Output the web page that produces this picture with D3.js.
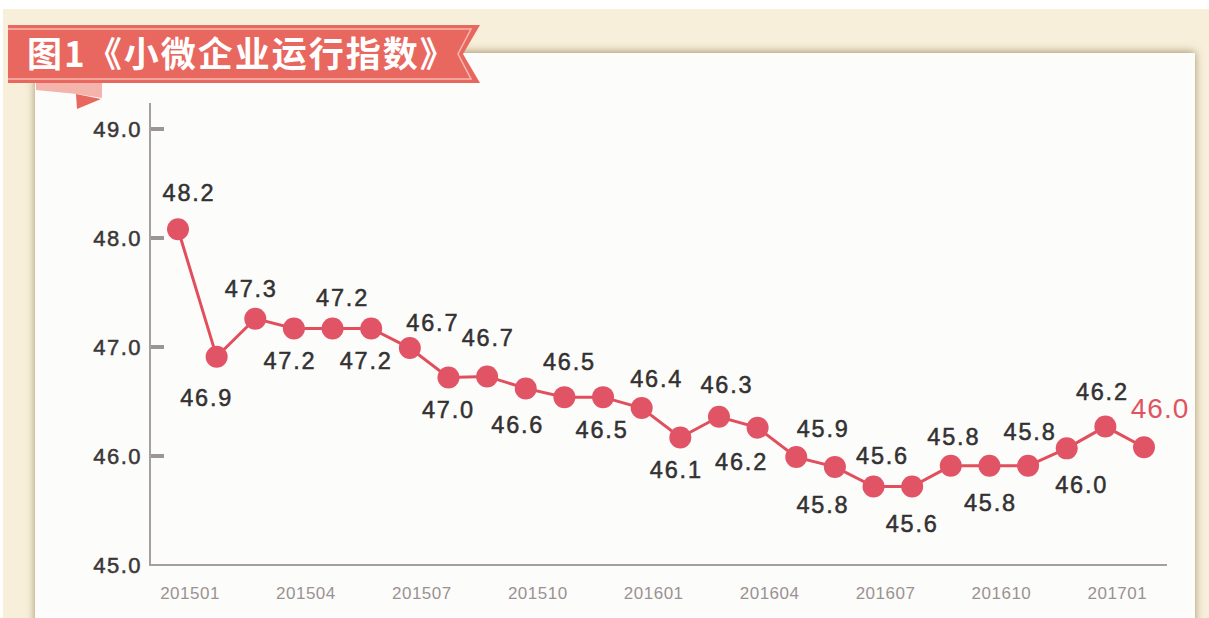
<!DOCTYPE html>
<html>
<head>
<meta charset="utf-8">
<script src="https://cdn.jsdelivr.net/npm/d3@7/dist/d3.min.js"></script>
<style>
  html, body { margin: 0; padding: 0; background: #ffffff; }
  svg { display: block; }
</style>
</head>
<body>
<svg id="chart" width="1209" height="618"></svg>
<script>
// ---- data ----
const title = "图1《小微企业运行指数》";
const months = ["201501","201502","201503","201504","201505","201506","201507","201508","201509",
                "201510","201511","201512","201601","201602","201603","201604","201605","201606",
                "201607","201608","201609","201610","201611","201612","201701","201702"];
// plotted index values (as drawn in the picture)
const values = [48.08, 46.91, 47.26, 47.17, 47.17, 47.17, 46.99, 46.72, 46.73, 46.62, 46.54, 46.54, 46.44,
                46.17, 46.36, 46.26, 45.99, 45.90, 45.72, 45.72, 45.91, 45.91, 45.91, 46.07, 46.27, 46.08];
// value labels as printed on the chart
const valueLabels = ["48.2","46.9","47.3","47.2","47.2","47.2","46.7","47.0","46.7","46.6","46.5","46.5","46.4",
                     "46.1","46.3","46.2","45.9","45.8","45.6","45.6","45.8","45.8","45.8","46.0","46.2","46.0"];
const yTicks = [45, 46, 47, 48, 49];
const xTickLabels = ["201501","201504","201507","201510","201601","201604","201607","201610","201701"];

// ---- layout (label nudges relative to each point: [dx, baseline dy]) ----
const labelNudge = [[11,-28],[-10,49],[-4,-22],[-4,41],[10,-22],[-5,41],[23,-17],[0,40],[1,-30],
                    [-8,45],[5,-27],[-1,41],[15,-21],[-4,41],[8,-24],[-16,42],[27,-20],[-12,46],
                    [9,-23],[0,45],[3,-21],[1,45],[2,-26],[15,45],[-3,-27],[16,-29]];

const svg = d3.select("#chart");
const defs = svg.append("defs");
const f = defs.append("filter").attr("id","shadow").attr("x","-5%").attr("y","-10%").attr("width","110%").attr("height","120%");
f.append("feGaussianBlur").attr("in","SourceAlpha").attr("stdDeviation",4).attr("result","b");
f.append("feOffset").attr("in","b").attr("dx",0).attr("dy",-1).attr("result","o");
f.append("feFlood").attr("flood-color","#8f7850").attr("flood-opacity",0.8);
f.append("feComposite").attr("in2","o").attr("operator","in").attr("result","s");
const fm = f.append("feMerge");
fm.append("feMergeNode").attr("in","s");
fm.append("feMergeNode").attr("in","SourceGraphic");

// background
svg.append("rect").attr("x",3).attr("y",9).attr("width",1206).attr("height",609).attr("fill","#f7efd9");
// white panel
svg.append("rect").attr("x",35).attr("y",53).attr("width",1160).attr("height",600)
   .attr("fill","#fcfcfb").attr("filter","url(#shadow)");

// scales
const x = d3.scalePoint().domain(months).range([178, 1144]);
const y = d3.scaleLinear().domain([45, 49]).range([565, 129]);

// axes
const axisColor = "#a79f9d";
svg.append("line").attr("x1",150).attr("x2",150).attr("y1",103).attr("y2",y(45))
   .attr("stroke",axisColor).attr("stroke-width",2);
svg.append("line").attr("x1",149).attr("x2",1167).attr("y1",y(45)).attr("y2",y(45))
   .attr("stroke",axisColor).attr("stroke-width",2);

const yAxis = svg.append("g");
yAxis.selectAll("line.tk").data(yTicks.filter(d => d > 45)).join("line")
  .attr("x1",151).attr("x2",164).attr("y1",d => y(d)).attr("y2",d => y(d))
  .attr("stroke","#9b9593").attr("stroke-width",4);
yAxis.selectAll("text").data(yTicks).join("text")
  .attr("x",142).attr("y",d => y(d)).attr("dy","0.36em")
  .attr("text-anchor","end")
  .attr("font-family","'Liberation Sans', Arial, sans-serif")
  .attr("font-size",22).attr("letter-spacing","1.5px")
  .attr("fill","#3a3736").attr("stroke","#3a3736").attr("stroke-width",0.5)
  .text(d => d.toFixed(1));

svg.append("g").selectAll("text").data(xTickLabels).join("text")
  .attr("x",d => x(d) + 12).attr("y",599)
  .attr("text-anchor","middle")
  .attr("font-family","'Liberation Sans', Arial, sans-serif")
  .attr("font-size",17).attr("letter-spacing","0.5px")
  .attr("fill","#9a9291")
  .text(d => d);

// line + points
const pts = months.map((m, i) => ({m, v: values[i], label: valueLabels[i], nudge: labelNudge[i], i}));
const line = d3.line().x(d => x(d.m)).y(d => y(d.v));
svg.append("path").datum(pts).attr("d", line)
   .attr("fill","none").attr("stroke","#e14f5d").attr("stroke-width",3);
svg.append("g").selectAll("circle").data(pts).join("circle")
   .attr("cx",d => x(d.m)).attr("cy",d => y(d.v)).attr("r",11)
   .attr("fill","#e15466");

// value labels
const last = pts.length - 1;
svg.append("g").selectAll("text").data(pts).join("text")
   .attr("x",d => x(d.m) + d.nudge[0]).attr("y",d => y(d.v) + d.nudge[1])
   .attr("text-anchor","middle")
   .attr("font-family","'Liberation Sans', Arial, sans-serif")
   .attr("font-size",d => d.i === last ? 28 : 23.5)
   .attr("letter-spacing",d => d.i === last ? "1px" : "1.8px")
   .attr("fill",d => d.i === last ? "#e0545f" : "#333131")
   .attr("stroke",d => d.i === last ? "none" : "#333131").attr("stroke-width",0.5)
   .text(d => d.label);

// title ribbon
const ribbon = svg.append("g");
ribbon.append("polygon").attr("points","36,83 102,83 102,98 77,94 36,90").attr("fill","#f4b4ac");
ribbon.append("polygon").attr("points","76,94 101,99 77,109").attr("fill","#e8675f");
ribbon.append("polygon").attr("points","8,25 480,25 463,54 480,83 8,83").attr("fill","#e8685f");
ribbon.append("polyline").attr("points","8,29 471,29 458,54 471,79 8,79")
   .attr("fill","none").attr("stroke","#f6b9b1").attr("stroke-width",1.5);
ribbon.append("text").attr("x",27).attr("y",67)
   .attr("font-family","'Noto Sans CJK SC', sans-serif").attr("font-weight","bold")
   .attr("font-size",35).attr("letter-spacing","2px").attr("fill","#ffffff")
   .text(title);
</script>
</body>
</html>
